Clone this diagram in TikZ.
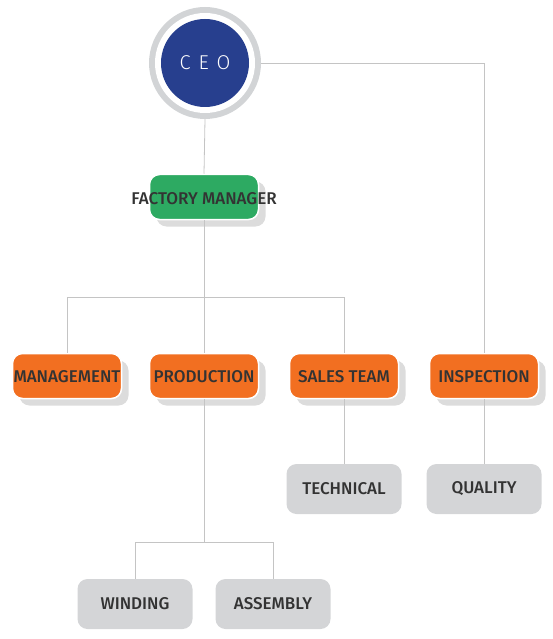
\documentclass[tikz,border=0pt]{standalone}
\usepackage{fontspec}
\setmainfont{Fira Sans}[UprightFont={* Medium}]
\newfontfamily\ceofont{Fira Sans}[UprightFont={* Light}]
\usetikzlibrary{shadows}
\definecolor{ceoblue}{HTML}{273F8E}
\definecolor{ringgray}{HTML}{D2D4D6}
\definecolor{orangebox}{HTML}{F26F21}
\definecolor{greenbox}{HTML}{2DAA62}
\definecolor{graybox}{HTML}{D4D5D7}
\definecolor{shadowgray}{HTML}{DCDCDC}
\definecolor{txt}{HTML}{333333}
\definecolor{linegray}{HTML}{C4C4C4}
\tikzset{
  lbl/.style={font=\fontsize{17}{18}\selectfont, text=txt},
  cbox/.style={rounded corners=10pt, minimum width=109pt, minimum height=45pt,
    draw=white, line width=1.5pt, inner sep=0pt,
    general shadow={fill=shadowgray, shadow xshift=7pt, shadow yshift=-7pt}},
  obox/.style={cbox, fill=orangebox},
  gbox/.style={cbox, fill=greenbox},
  sbox/.style={lbl, rounded corners=10pt, minimum width=115pt, minimum height=50pt,
    fill=graybox, inner sep=0pt},
  conn/.style={draw=linegray, line width=0.8pt}
}
\begin{document}
\begin{tikzpicture}[x=1pt,y=-1pt]
\useasboundingbox (0,0) rectangle (553,639);
% CEO
\node[circle, fill=ringgray, minimum size=112pt, inner sep=0pt] (ceoring) at (205,63) {};
\node[circle, fill=white, minimum size=100pt, inner sep=0pt] (ceogap) at (205,63) {};
\node[circle, fill=ceoblue, minimum size=88pt, inner sep=0pt, text=white,
  font=\ceofont\fontsize{20}{20}\selectfont\addfontfeature{LetterSpace=40}] (ceo) at (205,63) {CEO};
\node[gbox] (fm) at (204,197) {};
\node[obox] (man) at (67,376) {};
\node[obox] (prod) at (204,376) {};
\node[obox] (sales) at (344,376) {};
\node[obox] (insp) at (484,376) {};
\node[sbox] (tech) at (344,489) {TECHNICAL};
\node[sbox] (qual) at (484,489) {QUALITY};
\node[sbox] (wind) at (135,604) {WINDING};
\node[sbox] (asm) at (273,604) {ASSEMBLY};
\draw[conn] (ceoring.east) -- (484,63) -- (insp.north);
\draw[conn] (ceoring.south) -- (fm.north);
\draw[conn] (fm.south) -- (prod.north);
\draw[conn] (man.north) -- (67,297) -- (344,297) -- (sales.north);
\draw[conn] (sales.south) -- (tech.north);
\draw[conn] (insp.south) -- (qual.north);
\draw[conn] (prod.south) -- (204,542);
\draw[conn] (wind.north) -- (135,542) -- (273,542) -- (asm.north);
% labels on top
\node[lbl] (fmt) at ([yshift=-1.5pt]fm.center) {FACTORY MANAGER};
\node[lbl] (mant) at ([yshift=-1pt]man.center) {MANAGEMENT};
\node[lbl] (prodt) at ([yshift=-1pt]prod.center) {PRODUCTION};
\node[lbl] (salest) at ([yshift=-1pt]sales.center) {SALES TEAM};
\node[lbl] (inspt) at ([yshift=-1pt]insp.center) {INSPECTION};
\end{tikzpicture}
\end{document}
